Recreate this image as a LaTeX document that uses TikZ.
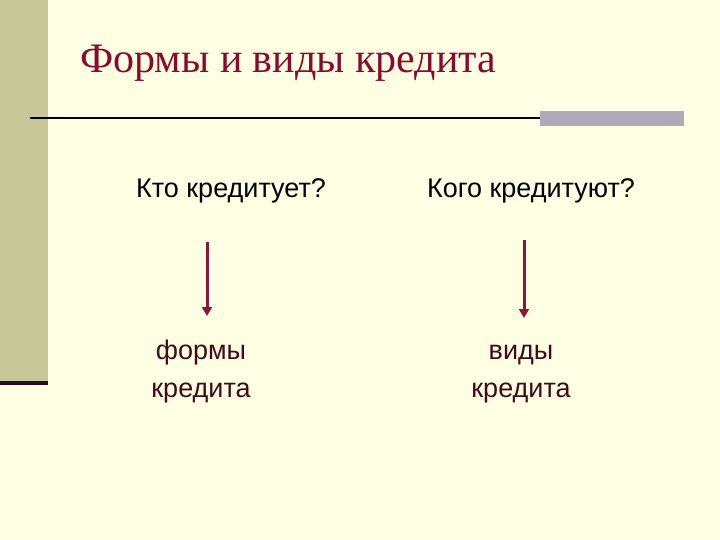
\documentclass[tikz,border=0pt]{standalone}
\usepackage{fontspec}
\setmainfont{Liberation Serif}
\newfontfamily\bodyfont{Liberation Sans}
\usetikzlibrary{arrows.meta}
\definecolor{bgyellow}{HTML}{FFFFE3}
\definecolor{sidebar}{HTML}{C6C697}
\definecolor{darkline}{HTML}{2A0A2A}
\definecolor{titlered}{HTML}{8A0A2E}
\definecolor{answerred}{HTML}{420A18}
\definecolor{arrowred}{HTML}{8C1538}
\definecolor{greybar}{HTML}{B0A9B8}
\tikzset{
  body/.style={font=\bodyfont\fontsize{27}{38}\selectfont, text=black, align=center, inner sep=0pt, anchor=base},
  answer/.style={body, text=answerred},
  downarrow/.style={draw=arrowred, line width=3pt, -{Triangle[length=9pt,width=10pt]}}
}
\begin{document}
\begin{tikzpicture}[x=1pt,y=-1pt]
\useasboundingbox (0,0) rectangle (720,540);
\fill[bgyellow] (0,0) rectangle (720,540);
\fill[sidebar] (0,0) rectangle (48,382);
\fill[darkline] (0,381) rectangle (48,385);
\node[anchor=base west, inner sep=0pt, text=titlered, font=\fontsize{42}{50}\selectfont] (title) at (80,73) {Формы и виды кредита};
\fill[greybar] (540,111) rectangle (684,126);
\draw[line width=2pt, black] (30,118) -- (540,118);
\node[body] (q1) at (231,198) {Кто кредитует?};
\node[body] (q2) at (531,198) {Кого кредитуют?};
\node[answer] (a1) at (201,397) {формы\\кредита};
\node[answer] (a2) at (521,397) {виды\\кредита};
\coordinate (s1) at (207,242);
\coordinate (e1) at (207,316);
\coordinate (s2) at (524,240);
\coordinate (e2) at (524,318);
\draw[downarrow] (s1) -- (e1);
\draw[downarrow] (s2) -- (e2);
\end{tikzpicture}
\end{document}
